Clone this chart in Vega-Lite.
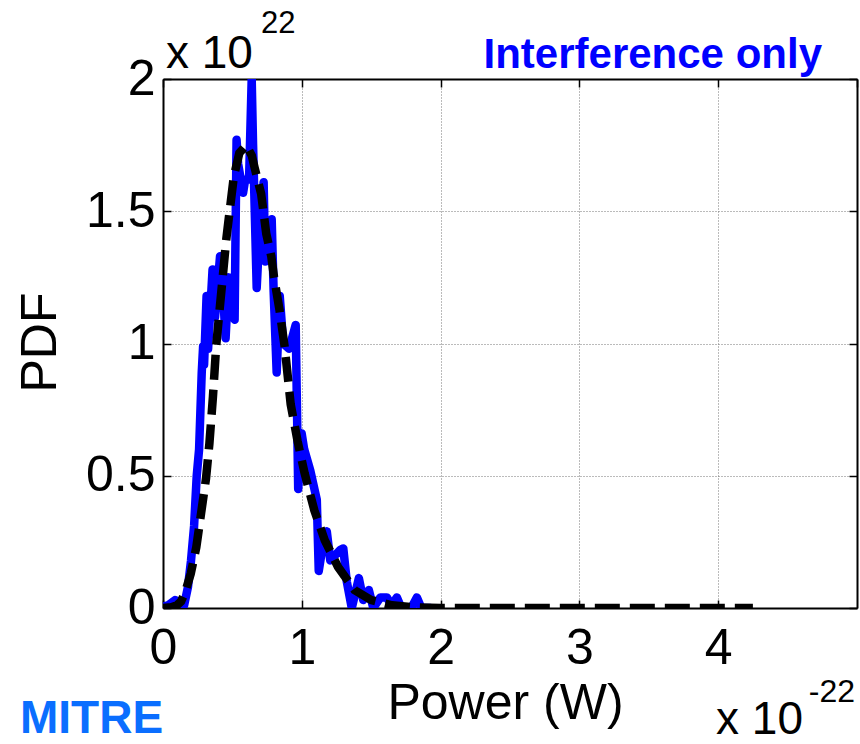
{
  "$schema": "https://vega.github.io/schema/vega-lite/v6.json",
  "width": 694,
  "height": 529,
  "autosize": "none",
  "padding": {"left": 163, "top": 79, "right": 3, "bottom": 136},
  "background": "white",
  "config": {"font": "Liberation Sans", "view": {"stroke": null}},
  "datasets": {
    "pdf": [
      {"power": 0.000, "pdf": 0.005}, {"power": 0.036, "pdf": 0.01}, {"power": 0.087, "pdf": 0.03},
      {"power": 0.123, "pdf": 0.02}, {"power": 0.152, "pdf": 0.01}, {"power": 0.180, "pdf": 0.08},
      {"power": 0.202, "pdf": 0.18}, {"power": 0.224, "pdf": 0.31}, {"power": 0.243, "pdf": 0.50},
      {"power": 0.260, "pdf": 0.60}, {"power": 0.279, "pdf": 0.89}, {"power": 0.289, "pdf": 0.99},
      {"power": 0.296, "pdf": 0.92}, {"power": 0.314, "pdf": 1.18}, {"power": 0.325, "pdf": 0.98},
      {"power": 0.357, "pdf": 1.28}, {"power": 0.375, "pdf": 1.10}, {"power": 0.411, "pdf": 1.33},
      {"power": 0.426, "pdf": 1.25}, {"power": 0.451, "pdf": 1.02}, {"power": 0.473, "pdf": 1.25},
      {"power": 0.516, "pdf": 1.09}, {"power": 0.530, "pdf": 1.77}, {"power": 0.541, "pdf": 1.68},
      {"power": 0.577, "pdf": 1.57}, {"power": 0.592, "pdf": 1.62}, {"power": 0.620, "pdf": 1.62},
      {"power": 0.639, "pdf": 2.0}, {"power": 0.649, "pdf": 1.75}, {"power": 0.675, "pdf": 1.21},
      {"power": 0.693, "pdf": 1.40}, {"power": 0.725, "pdf": 1.61}, {"power": 0.736, "pdf": 1.31},
      {"power": 0.783, "pdf": 1.47}, {"power": 0.797, "pdf": 1.20}, {"power": 0.819, "pdf": 0.89},
      {"power": 0.841, "pdf": 1.18}, {"power": 0.866, "pdf": 1.00}, {"power": 0.909, "pdf": 0.98},
      {"power": 0.956, "pdf": 1.07}, {"power": 0.974, "pdf": 0.45}, {"power": 0.999, "pdf": 0.66},
      {"power": 1.017, "pdf": 0.60}, {"power": 1.061, "pdf": 0.52}, {"power": 1.108, "pdf": 0.41},
      {"power": 1.122, "pdf": 0.14}, {"power": 1.140, "pdf": 0.20}, {"power": 1.180, "pdf": 0.29},
      {"power": 1.205, "pdf": 0.18}, {"power": 1.277, "pdf": 0.22}, {"power": 1.299, "pdf": 0.225},
      {"power": 1.324, "pdf": 0.10}, {"power": 1.360, "pdf": 0.0}, {"power": 1.411, "pdf": 0.113},
      {"power": 1.443, "pdf": 0.03}, {"power": 1.483, "pdf": 0.068}, {"power": 1.515, "pdf": 0.0},
      {"power": 1.566, "pdf": 0.04}, {"power": 1.613, "pdf": 0.04}, {"power": 1.645, "pdf": 0.01},
      {"power": 1.685, "pdf": 0.04}, {"power": 1.717, "pdf": 0.0}, {"power": 1.789, "pdf": 0.0},
      {"power": 1.829, "pdf": 0.04}, {"power": 1.861, "pdf": 0.0}, {"power": 1.926, "pdf": 0.0}
    ],
    "fit": [
      {"power": 0.0, "pdf": 0.0}, {"power": 0.06, "pdf": 0.003}, {"power": 0.10, "pdf": 0.01},
      {"power": 0.13, "pdf": 0.025}, {"power": 0.16, "pdf": 0.06}, {"power": 0.20, "pdf": 0.13},
      {"power": 0.24, "pdf": 0.23}, {"power": 0.275, "pdf": 0.36}, {"power": 0.31, "pdf": 0.49},
      {"power": 0.334, "pdf": 0.62}, {"power": 0.36, "pdf": 0.80}, {"power": 0.383, "pdf": 0.99},
      {"power": 0.41, "pdf": 1.14}, {"power": 0.43, "pdf": 1.25}, {"power": 0.455, "pdf": 1.39},
      {"power": 0.48, "pdf": 1.50}, {"power": 0.51, "pdf": 1.63}, {"power": 0.55, "pdf": 1.72},
      {"power": 0.60, "pdf": 1.75}, {"power": 0.64, "pdf": 1.71}, {"power": 0.66, "pdf": 1.665},
      {"power": 0.707, "pdf": 1.566}, {"power": 0.744, "pdf": 1.415}, {"power": 0.78, "pdf": 1.33},
      {"power": 0.80, "pdf": 1.25}, {"power": 0.84, "pdf": 1.125}, {"power": 0.876, "pdf": 0.99},
      {"power": 0.92, "pdf": 0.77}, {"power": 0.97, "pdf": 0.63}, {"power": 1.02, "pdf": 0.51},
      {"power": 1.09, "pdf": 0.37}, {"power": 1.165, "pdf": 0.257}, {"power": 1.26, "pdf": 0.156},
      {"power": 1.38, "pdf": 0.068}, {"power": 1.50, "pdf": 0.03}, {"power": 1.65, "pdf": 0.01},
      {"power": 1.80, "pdf": 0.003}, {"power": 2.0, "pdf": 0.0}, {"power": 4.25, "pdf": 0.0}
    ]
  },
  "layer": [
    {
      "data": {"name": "pdf"},
      "mark": {"type": "line", "color": "#0000FF", "strokeWidth": 8.5, "strokeCap": "round", "strokeJoin": "round", "clip": true},
      "encoding": {
        "x": {
          "field": "power", "type": "quantitative",
          "scale": {"domain": [0, 5], "nice": false, "zero": false},
          "axis": {
            "orient": "bottom", "values": [0, 1, 2, 3, 4], "format": "~g",
            "title": "Power (W)", "titleFontSize": 50, "titleFontWeight": "normal", "titleColor": "black",
            "titleX": 342, "titleY": 110, "titleBaseline": "alphabetic", "titleAlign": "center",
            "labelFontSize": 50, "labelColor": "black", "labelBaseline": "alphabetic", "labelPadding": 63, "labelFlush": false,
            "tickSize": -8, "tickColor": "black", "tickWidth": 1.5,
            "domainColor": "black", "domainWidth": 2,
            "grid": true, "gridColor": "#777777", "gridDash": [1, 2], "gridWidth": 1
          }
        },
        "y": {
          "field": "pdf", "type": "quantitative",
          "scale": {"domain": [0, 2], "nice": false},
          "axis": {
            "orient": "left", "values": [0, 0.5, 1, 1.5, 2], "format": "~g",
            "title": "PDF", "titleFontSize": 50, "titleFontWeight": "normal", "titleColor": "black",
            "titleX": -108, "titleY": 263, "titleBaseline": "alphabetic", "titleAlign": "center", "titleAngle": -90,
            "labelFontSize": 50, "labelColor": "black", "labelPadding": 16, "labelFlush": false,
            "tickSize": -8, "tickColor": "black", "tickWidth": 1.5,
            "domainColor": "black", "domainWidth": 2,
            "grid": true, "gridColor": "#777777", "gridDash": [1, 2], "gridWidth": 1
          }
        }
      }
    },
    {
      "data": {"name": "fit"},
      "mark": {"type": "line", "color": "black", "strokeWidth": 8.5, "strokeDash": [25, 10], "strokeCap": "butt", "clip": true},
      "encoding": {
        "x": {
          "field": "power", "type": "quantitative",
          "scale": {"domain": [0, 5], "nice": false, "zero": false},
          "axis": {"orient": "top", "values": [0, 1, 2, 3, 4, 5], "labels": false, "title": null, "grid": false,
                   "tickSize": -8, "tickColor": "black", "tickWidth": 1.5, "domainColor": "black", "domainWidth": 2}
        },
        "y": {
          "field": "pdf", "type": "quantitative",
          "scale": {"domain": [0, 2], "nice": false},
          "axis": {"orient": "right", "values": [0, 0.5, 1, 1.5, 2], "labels": false, "title": null, "grid": false,
                   "tickSize": -8, "tickColor": "black", "tickWidth": 1.5, "domainColor": "black", "domainWidth": 2}
        }
      }
    },
    {
      "data": {"values": [{"power": 0, "pdf": 2, "label": "x 10"}]},
      "mark": {"type": "text", "align": "left", "baseline": "alphabetic", "fontSize": 46, "color": "black", "dx": 3, "dy": -11},
      "encoding": {
        "x": {"field": "power", "type": "quantitative", "axis": null},
        "y": {"field": "pdf", "type": "quantitative", "axis": null},
        "text": {"field": "label"}
      }
    },
    {
      "data": {"values": [{"power": 0, "pdf": 2, "label": "22"}]},
      "mark": {"type": "text", "align": "left", "baseline": "alphabetic", "fontSize": 31, "color": "black", "dx": 98, "dy": -46},
      "encoding": {
        "x": {"field": "power", "type": "quantitative", "axis": null},
        "y": {"field": "pdf", "type": "quantitative", "axis": null},
        "text": {"field": "label"}
      }
    },
    {
      "data": {"values": [{"power": 5, "pdf": 2, "label": "Interference only"}]},
      "mark": {"type": "text", "align": "right", "baseline": "alphabetic", "fontSize": 42, "fontWeight": "bold", "color": "#0000FF", "dx": -35, "dy": -11},
      "encoding": {
        "x": {"field": "power", "type": "quantitative", "axis": null},
        "y": {"field": "pdf", "type": "quantitative", "axis": null},
        "text": {"field": "label"}
      }
    },
    {
      "data": {"values": [{"power": 5, "pdf": 0, "label": "x 10"}]},
      "mark": {"type": "text", "align": "right", "baseline": "alphabetic", "fontSize": 46, "color": "black", "dx": -54, "dy": 126},
      "encoding": {
        "x": {"field": "power", "type": "quantitative", "axis": null},
        "y": {"field": "pdf", "type": "quantitative", "axis": null},
        "text": {"field": "label"}
      }
    },
    {
      "data": {"values": [{"power": 5, "pdf": 0, "label": "-22"}]},
      "mark": {"type": "text", "align": "right", "baseline": "alphabetic", "fontSize": 32, "color": "black", "dx": -2, "dy": 94},
      "encoding": {
        "x": {"field": "power", "type": "quantitative", "axis": null},
        "y": {"field": "pdf", "type": "quantitative", "axis": null},
        "text": {"field": "label"}
      }
    },
    {
      "data": {"values": [{"power": 0, "pdf": 0, "label": "MITRE"}]},
      "mark": {"type": "text", "align": "left", "baseline": "alphabetic", "fontSize": 46, "fontWeight": "bold", "color": "#0A6EFF", "dx": -143, "dy": 125},
      "encoding": {
        "x": {"field": "power", "type": "quantitative", "axis": null},
        "y": {"field": "pdf", "type": "quantitative", "axis": null},
        "text": {"field": "label"}
      }
    }
  ],
  "resolve": {"axis": {"x": "independent", "y": "independent"}}
}
